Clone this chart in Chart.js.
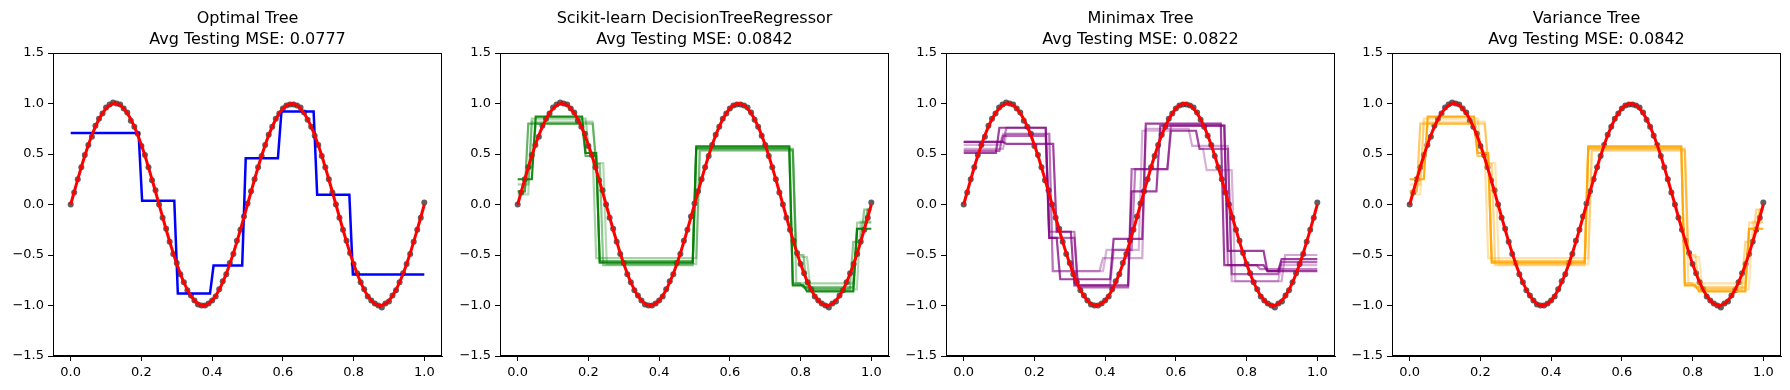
<!DOCTYPE html>
<html>
<head>
<meta charset="utf-8">
<script src="https://cdn.jsdelivr.net/npm/chart.js@4.4.1/dist/chart.umd.min.js"></script>
<style>
  html, body { margin: 0; padding: 0; background: #fff; }
  body { width: 1790px; height: 390px; position: relative; overflow: hidden; font-family: "DejaVu Sans", sans-serif; }
  canvas { position: absolute; top: 0; }
  .title { position: absolute; top: 7px; width: 420px; text-align: center; font-size: 16px; line-height: 21px; color: #000; white-space: nowrap; }
</style>
</head>
<body>
<script>
// ---- data ----
const panelTitles = ['Optimal Tree', 'Scikit-learn DecisionTreeRegressor', 'Minimax Tree', 'Variance Tree'];
const avgMSE = [0.0777, 0.0842, 0.0822, 0.0842];
const xTicks = [0, 0.2, 0.4, 0.6, 0.8, 1.0];
const yTicks = [-1.5, -1.0, -0.5, 0, 0.5, 1.0, 1.5];

// training samples (grey dots)
const sampleX = [
  0.00, 0.01, 0.02, 0.03, 0.04, 0.05, 0.06, 0.07, 0.08, 0.09,
  0.10, 0.11, 0.12, 0.13, 0.14, 0.15, 0.16, 0.17, 0.18, 0.19,
  0.20, 0.21, 0.22, 0.23, 0.24, 0.25, 0.26, 0.27, 0.28, 0.29,
  0.30, 0.31, 0.32, 0.33, 0.34, 0.35, 0.36, 0.37, 0.38, 0.39,
  0.40, 0.41, 0.42, 0.43, 0.44, 0.45, 0.46, 0.47, 0.48, 0.49,
  0.50, 0.51, 0.52, 0.53, 0.54, 0.55, 0.56, 0.57, 0.58, 0.59,
  0.60, 0.61, 0.62, 0.63, 0.64, 0.65, 0.66, 0.67, 0.68, 0.69,
  0.70, 0.71, 0.72, 0.73, 0.74, 0.75, 0.76, 0.77, 0.78, 0.79,
  0.80, 0.81, 0.82, 0.83, 0.84, 0.85, 0.86, 0.87, 0.88, 0.89,
  0.90, 0.91, 0.92, 0.93, 0.94, 0.95, 0.96, 0.97, 0.98, 0.99, 1.00
];
const sampleY = [
  0.00, 0.12, 0.25, 0.37, 0.49, 0.59, 0.67, 0.78, 0.85, 0.90,
  0.96, 0.99, 1.01, 1.00, 0.99, 0.95, 0.91, 0.83, 0.77, 0.70,
  0.58, 0.49, 0.37, 0.24, 0.14, 0.00, -0.13, -0.24, -0.37, -0.49,
  -0.58, -0.69, -0.77, -0.85, -0.90, -0.95, -0.99, -1.00, -1.00, -0.98,
  -0.95, -0.91, -0.84, -0.76, -0.69, -0.58, -0.49, -0.36, -0.25, -0.12,
  0.01, 0.13, 0.25, 0.37, 0.48, 0.59, 0.69, 0.77, 0.85, 0.90,
  0.95, 0.98, 0.99, 0.99, 0.98, 0.96, 0.91, 0.84, 0.77, 0.68,
  0.59, 0.48, 0.37, 0.25, 0.12, 0.00, -0.13, -0.25, -0.36, -0.48,
  -0.59, -0.68, -0.77, -0.84, -0.91, -0.95, -0.98, -1.00, -1.02, -0.98,
  -0.96, -0.90, -0.85, -0.77, -0.68, -0.59, -0.49, -0.37, -0.25, -0.13, 0.02
];

// true function (red curve)
const curveX = [
  0.00, 0.02, 0.04, 0.06, 0.08, 0.10, 0.12, 0.14, 0.16, 0.18,
  0.20, 0.22, 0.24, 0.26, 0.28, 0.30, 0.32, 0.34, 0.36, 0.38,
  0.40, 0.42, 0.44, 0.46, 0.48, 0.50, 0.52, 0.54, 0.56, 0.58,
  0.60, 0.62, 0.64, 0.66, 0.68, 0.70, 0.72, 0.74, 0.76, 0.78,
  0.80, 0.82, 0.84, 0.86, 0.88, 0.90, 0.92, 0.94, 0.96, 0.98, 1.00
];
const curveY = [
  0.000, 0.249, 0.482, 0.685, 0.844, 0.951, 0.998, 0.982, 0.905, 0.771,
  0.588, 0.368, 0.125, -0.125, -0.368, -0.588, -0.771, -0.905, -0.982, -0.998,
  -0.951, -0.844, -0.685, -0.482, -0.249, 0.000, 0.249, 0.482, 0.685, 0.844,
  0.951, 0.998, 0.982, 0.905, 0.771, 0.588, 0.368, 0.125, -0.125, -0.368,
  -0.588, -0.771, -0.905, -0.982, -0.998, -0.951, -0.844, -0.685, -0.482, -0.249, 0.000
];

// tree predictions: [x from, x to, predicted value]
const optimalFit = [
  [0.000, 0.192, 0.707], [0.202, 0.293, 0.036], [0.303, 0.394, -0.882], [0.404, 0.485, -0.605],
  [0.495, 0.586, 0.459], [0.596, 0.687, 0.922], [0.697, 0.788, 0.096], [0.798, 1.000, -0.694]
];

const sklearnFits = [
  [[0, 0.040, 0.25], [0.051, 0.182, 0.87], [0.192, 0.222, 0.51], [0.232, 0.495, -0.575],
   [0.505, 0.768, 0.575], [0.778, 0.808, -0.80], [0.818, 0.949, -0.86], [0.960, 1.0, -0.24]],
  [[0, 0.020, 0.13], [0.030, 0.040, 0.37], [0.051, 0.212, 0.80], [0.222, 0.232, 0.40], [0.242, 0.495, -0.60],
   [0.505, 0.778, 0.55], [0.788, 0.808, -0.50], [0.818, 0.939, -0.84], [0.949, 0.970, -0.37], [0.980, 1.0, -0.05]],
  [[0, 0.030, 0.20], [0.040, 0.192, 0.85], [0.202, 0.212, 0.52], [0.222, 0.505, -0.53],
   [0.515, 0.778, 0.54], [0.788, 0.949, -0.78], [0.960, 1.0, -0.18]],
  [[0, 0.020, 0.13], [0.030, 0.182, 0.80], [0.192, 0.222, 0.48], [0.232, 0.495, -0.56],
   [0.505, 0.768, 0.56], [0.778, 0.798, -0.78], [0.808, 0.949, -0.82], [0.960, 0.980, -0.24], [0.990, 1.0, -0.05]],
  [[0, 0.030, 0.10], [0.040, 0.212, 0.82], [0.222, 0.242, 0.41], [0.252, 0.505, -0.59],
   [0.515, 0.778, 0.53], [0.788, 0.818, -0.52], [0.828, 0.959, -0.84], [0.970, 1.0, -0.17]]
];

const minimaxFits = [
  [[0, 0.111, 0.62], [0.121, 0.253, 0.60], [0.263, 0.303, -0.27], [0.313, 0.465, -0.80], [0.475, 0.545, 0.13],
   [0.556, 0.737, 0.78], [0.747, 0.848, -0.46], [0.859, 0.889, -0.66], [0.899, 1.0, -0.54]],
  [[0, 0.091, 0.51], [0.101, 0.232, 0.76], [0.242, 0.263, -0.33], [0.273, 0.414, -0.74], [0.424, 0.505, -0.34],
   [0.515, 0.727, 0.80], [0.737, 0.848, -0.60], [0.859, 1.0, -0.66]],
  [[0, 0.111, 0.55], [0.121, 0.242, 0.70], [0.252, 0.384, -0.66], [0.394, 0.505, -0.53],
   [0.515, 0.636, 0.75], [0.646, 0.747, 0.58], [0.758, 0.899, -0.76], [0.909, 1.0, -0.50]],
  [[0, 0.101, 0.53], [0.111, 0.232, 0.68], [0.242, 0.313, -0.33], [0.323, 0.465, -0.82], [0.475, 0.576, 0.35],
   [0.586, 0.657, 0.73], [0.667, 0.747, 0.55], [0.758, 0.889, -0.69], [0.899, 1.0, -0.57]],
  [[0, 0.101, 0.59], [0.111, 0.242, 0.70], [0.252, 0.394, -0.66], [0.404, 0.495, -0.45], [0.505, 0.657, 0.73],
   [0.667, 0.677, 0.55], [0.687, 0.758, 0.34], [0.768, 0.889, -0.76], [0.899, 1.0, -0.60]],
  [[0, 0.111, 0.62], [0.121, 0.232, 0.76], [0.242, 0.313, -0.27], [0.323, 0.414, -0.80], [0.424, 0.475, -0.45],
   [0.485, 0.576, 0.35], [0.586, 0.737, 0.78], [0.747, 0.828, -0.60], [0.838, 1.0, -0.64]]
];

// the variance tree ends up with the same splits as sklearn
const varianceFits = sklearnFits;

// ---- styling / layout ----
const plotLeft = [53, 500, 946, 1392];
const plotW = 389, axisW = 53, padRight = 15;

const panels = [
  { fits: [optimalFit], rgb: '0,0,255', alphas: [1], width: 2.5 },
  { fits: sklearnFits, rgb: '0,128,0', alphas: [0.9, 0.45, 0.35, 0.6, 0.3], width: 2.2 },
  { fits: minimaxFits, rgb: '128,0,128', alphas: [0.75, 0.75, 0.35, 0.6, 0.3, 0.5], width: 2.2 },
  { fits: varianceFits, rgb: '255,165,0', alphas: [0.9, 0.45, 0.35, 0.6, 0.3], width: 2.2 }
];

const fmt = v => v.toFixed(1).replace('-', '\u2212');
const tickFont = { family: 'DejaVu Sans', size: 13 };

function stepPoints(segs) {
  const pts = [];
  segs.forEach(([a, b, y]) => { pts.push({ x: a, y: y }, { x: b, y: y }); });
  return pts;
}

const frame = {
  id: 'frame',
  afterDraw(c) {
    const a = c.chartArea, ctx = c.ctx;
    ctx.save();
    ctx.strokeStyle = '#000';
    ctx.lineWidth = 1;
    ctx.strokeRect(Math.round(a.left) + 0.5, Math.round(a.top) + 0.5,
      Math.round(a.right - a.left) - 1, Math.round(a.bottom - a.top) - 1);
    ctx.restore();
  }
};

function axis(min, max, ticks, horizontal) {
  return {
    type: 'linear', min: min, max: max,
    afterBuildTicks: s => { s.ticks = ticks.map(v => ({ value: v })); },
    afterFit: s => { if (horizontal) s.height = 34; else s.width = axisW; },
    grid: { display: true, drawOnChartArea: false, drawTicks: true, tickLength: 5, color: '#000', lineWidth: 1 },
    border: { display: true, color: '#000', width: 1 },
    ticks: { padding: 4, color: '#000', font: tickFont, autoSkip: false, maxRotation: 0, callback: v => fmt(v) }
  };
}

panels.forEach((p, i) => {
  const cv = document.createElement('canvas');
  cv.width = axisW + plotW + padRight;
  cv.height = 390;
  cv.style.left = (plotLeft[i] - axisW) + 'px';
  document.body.appendChild(cv);

  const t = document.createElement('div');
  t.className = 'title';
  t.style.left = (plotLeft[i] + plotW / 2 - 210) + 'px';
  t.innerHTML = panelTitles[i] + '<br>Avg Testing MSE: ' + avgMSE[i].toFixed(4);
  document.body.appendChild(t);

  const datasets = [{
    data: sampleX.map((x, k) => ({ x: x, y: sampleY[k] })),
    showLine: false, pointRadius: 3, pointBorderWidth: 0,
    pointBackgroundColor: 'rgba(55,55,55,0.8)', order: 2
  }];
  p.fits.forEach((segs, k) => {
    datasets.push({
      data: stepPoints(segs), showLine: true, pointRadius: 0,
      borderColor: 'rgba(' + p.rgb + ',' + p.alphas[k] + ')', borderWidth: p.width, order: 1
    });
  });
  datasets.push({
    data: curveX.map((x, k) => ({ x: x, y: curveY[k] })),
    showLine: true, pointRadius: 0, borderColor: '#ff0000', borderWidth: 3, tension: 0.4, order: 0
  });

  new Chart(cv, {
    type: 'scatter',
    data: { datasets: datasets },
    options: {
      responsive: false, animation: false, events: [],
      layout: { padding: { top: 53, right: padRight, left: 0, bottom: 0 } },
      plugins: { legend: { display: false }, tooltip: { enabled: false } },
      scales: { x: axis(-0.05, 1.05, xTicks, true), y: axis(-1.5, 1.5, yTicks, false) }
    },
    plugins: [frame]
  });
});
</script>
</body>
</html>
